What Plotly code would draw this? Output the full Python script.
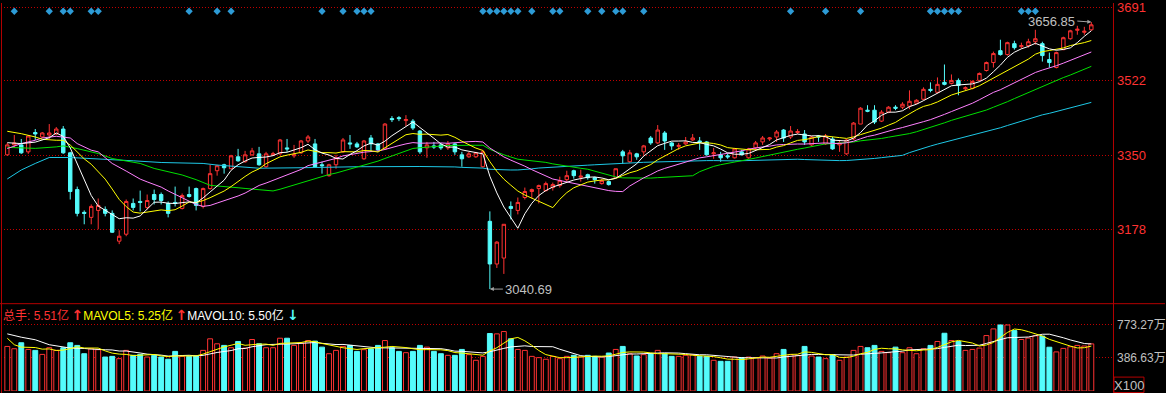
import plotly.graph_objects as go
import pandas as pd

# ---------------- data ----------------
opens = [3350.5,3373.4,3373.4,3357.4,3402.0,3391.7,3396.3,3398.6,3410.0,3355.1,
         3270.3,3217.7,3206.2,3222.2,3224.5,3215.4,3151.3,3167.3,3238.3,3242.9,
         3229.1,3258.9,3258.9,3238.3,3240.6,3226.8,3258.9,3272.6,3231.4,3272.6,
         3313.8,3327.6,3318.4,3345.9,3334.5,3350.5,3352.8,3323.0,3350.5,3352.8,
         3366.5,3348.2,3355.1,3382.5,3375.7,3327.6,3302.4,3327.6,3357.4,3378.0,
         3375.7,3341.3,3389.4,3375.7,3364.2,3434.1,3436.3,3429.5,3428.3,3405.4,
         3366.5,3371.1,3373.4,3366.5,3375.7,3350.5,3345.9,3345.9,3323.0,3197.0,
         3098.6,3112.3,3231.4,3222.2,3252.0,3265.8,3272.6,3268.0,3274.9,3279.5,
         3293.2,3313.8,3298.9,3304.7,3297.8,3284.1,3288.7,3297.8,3357.4,3334.5,
         3352.8,3357.4,3389.4,3378.0,3400.9,3378.0,3370.0,3375.7,3384.8,3382.5,
         3380.3,3352.8,3350.5,3348.2,3343.6,3357.4,3343.6,3366.5,3380.3,3387.1,
         3391.7,3407.7,3391.7,3402.0,3398.6,3373.4,3394.0,3375.7,3387.1,3373.4,
         3352.8,3387.1,3421.5,3453.5,3453.5,3428.3,3448.9,3460.4,3460.4,3462.7,
         3469.6,3478.7,3501.6,3494.8,3517.7,3515.4,3522.2,3502.8,3503.9,3522.2,
         3545.1,3563.4,3590.9,3581.8,3607.0,3600.1,3602.4,3611.5,3607.0,3570.3,
         3552.0,3593.2,3618.4,3637.9,3633.3,3639.0]
highs = [3378.0,3396.3,3387.1,3396.3,3410.0,3403.2,3421.5,3414.6,3416.9,3357.4,
         3277.2,3222.2,3236.0,3249.7,3231.4,3222.2,3176.4,3247.4,3249.7,3268.0,
         3258.9,3270.3,3263.5,3242.9,3277.2,3261.2,3277.2,3274.9,3274.9,3327.6,
         3327.6,3329.9,3350.5,3364.2,3359.6,3366.5,3368.8,3357.4,3357.4,3387.1,
         3387.1,3373.4,3384.8,3396.3,3387.1,3334.5,3329.9,3350.5,3389.4,3396.3,
         3380.3,3384.8,3396.3,3378.0,3423.8,3439.8,3439.8,3442.1,3432.9,3407.7,
         3380.3,3380.3,3378.0,3382.5,3378.0,3357.4,3357.4,3357.4,3361.9,3220.0,
         3151.3,3190.2,3242.9,3252.0,3274.9,3272.6,3281.8,3288.7,3286.4,3300.1,
         3313.8,3316.1,3316.1,3307.0,3300.1,3295.5,3290.9,3318.4,3361.9,3361.9,
         3355.1,3373.4,3394.0,3419.2,3405.4,3380.3,3378.0,3391.7,3398.6,3391.7,
         3382.5,3366.5,3357.4,3352.8,3366.5,3361.9,3366.5,3382.5,3394.0,3391.7,
         3407.7,3410.0,3416.9,3410.0,3407.7,3394.0,3396.3,3398.6,3391.7,3384.8,
         3387.1,3426.1,3460.4,3465.0,3465.0,3453.5,3462.7,3465.0,3471.9,3499.3,
         3478.7,3506.2,3517.7,3529.1,3558.9,3536.0,3526.8,3508.5,3522.2,3540.5,
         3565.7,3588.6,3616.1,3611.5,3613.8,3609.3,3618.4,3639.0,3611.5,3586.4,
         3588.6,3623.0,3639.0,3648.2,3645.9,3656.85]
lows = [3348.2,3366.5,3352.8,3352.8,3384.8,3389.4,3387.1,3396.3,3352.8,3247.4,
        3208.5,3190.2,3190.2,3178.7,3208.5,3170.0,3144.4,3162.7,3222.2,3220.0,
        3224.5,3236.0,3236.0,3206.2,3231.4,3224.5,3252.0,3222.2,3226.8,3270.3,
        3302.4,3307.0,3318.4,3334.5,3332.2,3348.2,3325.3,3320.7,3348.2,3350.5,
        3357.4,3343.6,3352.8,3378.0,3321.0,3307.0,3300.1,3318.4,3355.1,3364.2,
        3366.5,3339.0,3357.4,3357.4,3361.9,3426.1,3428.3,3416.9,3407.7,3352.8,
        3343.6,3364.2,3361.9,3361.9,3350.5,3323.0,3343.6,3343.6,3320.7,3040.69,
        3089.4,3075.7,3201.6,3213.1,3247.4,3249.7,3238.3,3265.8,3268.0,3274.9,
        3288.7,3295.5,3288.7,3293.2,3284.1,3281.8,3279.5,3297.8,3329.9,3332.2,
        3339.0,3350.5,3373.4,3375.7,3361.9,3361.9,3361.9,3373.4,3382.5,3361.9,
        3349.0,3341.3,3334.5,3341.3,3342.0,3349.0,3341.3,3361.9,3373.4,3382.5,
        3380.3,3380.3,3387.1,3398.6,3373.4,3371.1,3380.3,3373.4,3362.0,3357.4,
        3350.5,3384.8,3421.5,3448.9,3421.5,3426.1,3446.7,3453.5,3455.8,3455.8,
        3467.3,3476.4,3494.8,3492.5,3510.8,3513.1,3487.9,3499.3,3501.6,3519.9,
        3542.8,3552.0,3579.5,3579.5,3593.2,3595.5,3597.8,3604.7,3565.7,3552.0,
        3550.0,3592.0,3616.1,3627.6,3627.6,3636.7]
closes = [3373.4,3378.0,3355.1,3394.0,3398.6,3400.9,3400.9,3410.0,3355.1,3265.8,
          3215.4,3215.4,3231.4,3233.7,3215.4,3171.9,3162.7,3242.9,3229.1,3240.6,
          3245.1,3247.4,3245.1,3215.4,3238.3,3256.6,3254.3,3233.7,3272.6,3307.0,
          3325.3,3320.7,3348.2,3336.7,3350.5,3359.6,3327.6,3352.8,3352.8,3384.8,
          3364.2,3350.5,3382.5,3391.7,3323.0,3325.3,3327.6,3343.6,3384.8,3375.7,
          3368.8,3382.5,3375.7,3361.9,3421.5,3431.8,3434.1,3431.8,3412.3,3357.4,
          3373.4,3368.8,3366.5,3375.7,3357.4,3341.3,3352.8,3355.1,3357.4,3098.6,
          3149.0,3190.2,3226.8,3240.6,3265.8,3270.3,3279.5,3284.1,3281.8,3290.9,
          3302.4,3302.4,3301.2,3297.8,3293.2,3290.9,3281.8,3318.4,3348.2,3355.1,
          3345.9,3371.1,3378.0,3407.7,3382.5,3371.1,3372.2,3380.3,3389.4,3380.3,
          3350.5,3355.1,3343.6,3345.9,3364.2,3350.5,3364.2,3378.0,3389.4,3389.4,
          3403.2,3389.4,3405.4,3404.3,3380.3,3391.7,3391.7,3394.0,3364.2,3378.0,
          3384.8,3423.8,3458.1,3451.2,3426.1,3448.9,3460.4,3458.1,3467.3,3474.1,
          3476.4,3501.6,3499.3,3513.1,3513.1,3522.2,3510.8,3505.1,3519.9,3538.3,
          3563.4,3584.1,3581.8,3609.3,3597.8,3602.4,3611.5,3618.4,3579.5,3563.4,
          3586.4,3620.7,3636.7,3640.2,3635.6,3650.5]
# volume in 亿
volumes = [5.21,4.94,5.64,4.86,4.75,4.28,5.06,4.75,5.06,5.64,
           5.33,4.36,4.94,4.83,3.97,4.05,3.78,4.75,4.17,4.28,
           3.97,4.17,3.97,3.71,4.63,4.05,4.05,4.09,4.75,6.10,
           5.52,5.33,5.06,5.79,5.02,6.02,5.52,5.06,5.06,6.17,
           6.17,5.33,5.60,5.90,5.83,5.13,4.36,4.75,5.21,5.33,
           4.63,4.83,4.94,5.33,5.90,5.06,4.63,4.48,4.63,5.33,
           5.13,4.63,4.36,4.17,4.17,4.86,4.25,3.59,4.05,6.72,
           6.68,6.95,6.10,4.86,4.75,4.05,3.90,3.71,4.05,3.78,
           4.05,4.17,3.97,4.17,4.05,3.97,4.44,4.86,5.21,4.36,
           4.09,4.25,4.36,4.75,4.36,4.05,4.05,4.17,4.25,4.05,
           4.05,3.59,3.47,3.47,3.97,3.90,3.97,3.90,4.09,3.85,
           4.36,4.86,4.25,4.17,5.21,4.09,3.97,3.78,4.25,3.59,
           3.97,4.75,5.21,5.06,5.33,4.63,4.48,5.13,4.48,5.06,
           4.36,4.94,5.33,5.79,6.75,5.90,5.79,4.75,4.86,5.02,
           6.48,7.26,7.72,7.72,7.06,6.02,6.19,6.45,6.42,5.12,
           4.57,4.98,5.17,5.33,5.26,5.51]
# buy-signal markers (candle index)
signals = [1, 6, 8, 9, 12, 13, 26, 30, 32, 45, 48, 50, 51, 52, 68, 69, 70, 71, 72, 73,
           75, 78, 79, 83, 85, 87, 88, 91, 112, 117, 122, 132, 133, 134, 135, 136,
           145, 146, 147]
# moving-average values visible before enough candles exist (index: value)
ma5_head = {0: 3378.5, 2: 3376.4}
ma10_head = {0: 3404.8, 2: 3399.3, 4: 3391.7, 5: 3386.4, 7: 3384.1, 8: 3384.1}
ma20_head = {0: 3364.9, 2: 3376.4, 4: 3384.1, 5: 3389.4, 7: 3393.3, 8: 3391.7, 9: 3389.4,
             10: 3376.4, 12: 3361.2, 13: 3357.4, 15: 3330.6, 17: 3313.0}
ma30_head = {0: 3367.7, 4: 3365.4, 7: 3368.8, 8: 3371.1, 10: 3364.9, 12: 3357.4, 13: 3353.5,
             15: 3342.0, 17: 3336.7, 19: 3330.6, 21: 3319.1, 25: 3304.0, 27: 3293.2}
ma60_head = {0: 3294.8, 2: 3315.5, 4: 3330.6, 6: 3344.3, 9: 3344.3, 13: 3341.3, 18: 3336.7,
             22: 3332.8, 28: 3330.6, 30: 3326.9, 36: 3319.6, 42: 3320.7, 50: 3323.0}
vma5_head = {0: 6.17, 1: 5.41, 2: 5.13}
vma10_head = {0: 6.68, 2: 6.29, 4: 5.99, 6: 5.41}

price_ticks = [3691, 3522, 3350, 3178]
vol_ticks = [3.8663, 7.7327]
vol_tick_text = ["386.63万", "773.27万"]
hi_label, lo_label = "3656.85", "3040.69"

# ---------------- styling ----------------
UP = "#ff3232"
DN = "#54fcfc"
GRID = "#c00000"
BORDER = "#b40000"
FONT = "Liberation Sans, Arial, Noto Sans CJK SC"
W, H = 1166, 393
ML, MR, MT, MB = 1, 52, 0, 2
PRICE_RANGE = [3009.3, 3700.85]
VOL_RANGE = [0, 10.21]
PLOT_H = H - MT - MB   # 391
PRICE_BOTTOM_PX = 302
VOL_TOP_PX = 303

n = len(closes)
idx = list(range(n))


def ma_line(values, win, head):
    s = pd.Series(values).rolling(win).mean()
    keys = sorted(k for k in head if k < win - 1)
    xs = keys + list(range(win - 1, len(values)))
    ys = [head[k] for k in keys] + list(s.iloc[win - 1:])
    return xs, ys


fig = go.Figure()

fig.add_trace(go.Candlestick(
    x=idx, open=opens, high=highs, low=lows, close=closes,
    increasing=dict(line=dict(color=UP, width=1), fillcolor="#000000"),
    decreasing=dict(line=dict(color=DN, width=1), fillcolor=DN),
    whiskerwidth=0, showlegend=False, hoverinfo="skip", xaxis="x", yaxis="y"))

for win, head, col in [(60, ma60_head, "#1ec8e6"), (30, ma30_head, "#00e000"),
                       (20, ma20_head, "#ff80ff"), (10, ma10_head, "#ffff00"),
                       (5, ma5_head, "#ffffff")]:
    xs, ys = ma_line(closes, win, head)
    fig.add_trace(go.Scatter(x=xs, y=ys, mode="lines", line=dict(color=col, width=1),
                             hoverinfo="skip", showlegend=False, xaxis="x", yaxis="y"))

# signal diamonds near the top of the price panel
sig_y = PRICE_RANGE[1] - (PRICE_RANGE[1] - PRICE_RANGE[0]) * 8.3 / PRICE_BOTTOM_PX
fig.add_trace(go.Scatter(x=signals, y=[sig_y] * len(signals), mode="markers",
                         marker=dict(symbol="diamond", size=5.6, color="#2d9bd6",
                                     line=dict(width=0)),
                         hoverinfo="skip", showlegend=False, xaxis="x", yaxis="y"))

# volume bars
up_mask = [c >= o for o, c in zip(opens, closes)]
fig.add_trace(go.Bar(
    x=idx, y=volumes, width=0.7,
    marker=dict(color=["#000000" if u else DN for u in up_mask],
                line=dict(color=[UP if u else DN for u in up_mask], width=1)),
    hoverinfo="skip", showlegend=False, xaxis="x", yaxis="y2"))

for win, head, col in [(10, vma10_head, "#ffffff"), (5, vma5_head, "#ffff00")]:
    xs, ys = ma_line(volumes, win, head)
    fig.add_trace(go.Scatter(x=xs, y=ys, mode="lines", line=dict(color=col, width=1),
                             hoverinfo="skip", showlegend=False, xaxis="x", yaxis="y2"))

price_dom = [(PLOT_H - PRICE_BOTTOM_PX) / PLOT_H, 1]
vol_dom = [0, (PLOT_H - VOL_TOP_PX) / PLOT_H]
plot_w = W - ML - MR


def px_x(px):
    return (px - ML) / plot_w


def px_y(py):
    return (PLOT_H - (py - MT)) / PLOT_H


fig.update_layout(
    width=W, height=H, margin=dict(l=ML, r=MR, t=MT, b=MB),
    paper_bgcolor="#000000", plot_bgcolor="#000000", showlegend=False,
    font=dict(family=FONT),
    boxgap=0.3,
    xaxis=dict(range=[-0.9, 158.1], visible=False, rangeslider=dict(visible=False),
               anchor="y2", fixedrange=True),
    yaxis=dict(domain=price_dom, range=PRICE_RANGE, side="right", tickvals=price_ticks,
               ticktext=[str(t) for t in price_ticks], ticks="", showline=False,
               zeroline=False, showgrid=True, gridcolor=GRID, griddash="1px,2px",
               gridwidth=1, tickfont=dict(color=UP, size=13, family=FONT),
               ticklabelstandoff=3, ticklabeloverflow="allow", fixedrange=True),
    yaxis2=dict(domain=vol_dom, range=VOL_RANGE, side="right", tickvals=vol_ticks,
                ticktext=vol_tick_text, ticks="", showline=False, zeroline=False,
                showgrid=True, gridcolor=GRID, griddash="1px,2px", gridwidth=1,
                tickfont=dict(color="#c0c0c0", size=12, family=FONT),
                ticklabelstandoff=3, ticklabeloverflow="allow", fixedrange=True),
)

shapes = [
    # left border
    dict(type="line", xref="paper", yref="paper", x0=px_x(1.5), x1=px_x(1.5),
         y0=px_y(393), y1=px_y(0), line=dict(color=BORDER, width=1)),
    # right axis line
    dict(type="line", xref="paper", yref="paper", x0=px_x(1114.5), x1=px_x(1114.5),
         y0=px_y(393), y1=px_y(0), line=dict(color=BORDER, width=1)),
    # panel separator
    dict(type="line", xref="paper", yref="paper", x0=px_x(0), x1=px_x(1166),
         y0=px_y(303), y1=px_y(303), line=dict(color=BORDER, width=1)),
    # X100 box
    dict(type="rect", xref="paper", yref="paper", x0=px_x(1115), x1=px_x(1145),
         y0=px_y(392.5), y1=px_y(377), line=dict(color=BORDER, width=1)),
]
fig.update_layout(shapes=shapes)

ARROW = "font-size:14px;font-family:DejaVu Sans;font-weight:bold"
hdr = ("<span style='color:#ff3232'>总手: %.2f亿\u2009</span>"
       "<span style='color:#ff3232;" + ARROW + "'>↑</span>"
       "<span style='color:#ffff00'>MAVOL5: 5.25亿\u2009</span>"
       "<span style='color:#ff3232;" + ARROW + "'>↑</span>"
       "<span style='color:#ffffff'>MAVOL10: 5.50亿 </span>"
       "<span style='color:#54fcfc;" + ARROW + "'>↓</span>") % volumes[-1]

annotations = [
    dict(xref="paper", yref="paper", x=px_x(1), y=px_y(314), text=hdr, showarrow=False,
         xanchor="left", yanchor="middle", font=dict(size=12, family=FONT)),
    dict(xref="paper", yref="paper", x=px_x(1130), y=px_y(385), text="X100",
         showarrow=False, xanchor="center", yanchor="middle",
         font=dict(size=13, color="#c0c0c0", family=FONT)),
    dict(x=n - 1, y=highs[-1], xref="x", yref="y", text=hi_label, showarrow=True,
         ax=-14, ay=-1, xanchor="right", yanchor="middle", arrowhead=2, arrowsize=0.8,
         arrowwidth=1, arrowcolor="#a0a0a0", font=dict(size=13, color="#c0c0c0", family=FONT)),
    dict(x=lows.index(min(lows)), y=min(lows), xref="x", yref="y", text=lo_label,
         showarrow=True, ax=13, ay=0, xanchor="left", yanchor="middle", arrowhead=2,
         arrowsize=0.8, arrowwidth=1, arrowcolor="#a0a0a0",
         font=dict(size=13, color="#c0c0c0", family=FONT)),
]
fig.update_layout(annotations=annotations)

fig.write_html("out.html")
